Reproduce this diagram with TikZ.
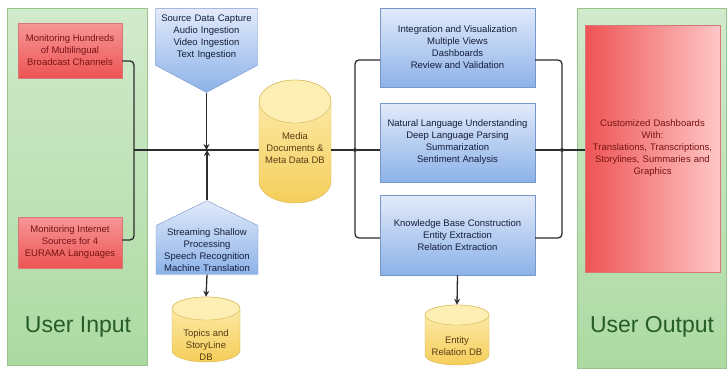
\documentclass[tikz,border=0pt]{standalone}
\usepackage{fontspec}
\setmainfont{Liberation Sans}
\usetikzlibrary{positioning,shapes.geometric,shapes.symbols,arrows.meta}

\definecolor{paneltop}{RGB}{210,234,204}
\definecolor{panelbot}{RGB}{172,218,162}
\definecolor{panelline}{RGB}{150,196,140}
\definecolor{labelgreen}{RGB}{38,92,38}
\definecolor{redtop}{RGB}{246,150,150}
\definecolor{redbot}{RGB}{238,84,84}
\definecolor{redline}{RGB}{214,120,120}
\definecolor{redtext}{RGB}{120,20,20}
\definecolor{bluetop}{RGB}{226,234,250}
\definecolor{bluebot}{RGB}{140,178,232}
\definecolor{blueline}{RGB}{120,150,200}
\definecolor{bluetext}{RGB}{20,30,60}
\definecolor{dbtop}{RGB}{253,238,180}
\definecolor{dbbot}{RGB}{245,206,90}
\definecolor{dbline}{RGB}{214,180,80}
\definecolor{dbtext}{RGB}{90,60,20}
\definecolor{wire}{RGB}{45,45,45}

\begin{document}
\begin{tikzpicture}[x=1pt,y=-1pt,
    panel/.style={draw=panelline, top color=paneltop, bottom color=panelbot},
    biglabel/.style={font=\fontsize{23}{26}\selectfont, text=labelgreen},
    inbox/.style={draw=redline, top color=redtop, bottom color=redbot, text=redtext,
      font=\fontsize{9.5}{12}\selectfont, align=center, inner sep=2pt},
    task/.style={draw=blueline, top color=bluetop, bottom color=bluebot, text=bluetext,
      font=\fontsize{9.5}{12}\selectfont, align=center, inner sep=2pt,
      minimum width=155pt, minimum height=79pt},
    capture/.style={shape=signal, draw=blueline, top color=bluetop, bottom color=bluebot,
      text=bluetext, font=\fontsize{9.5}{12}\selectfont, align=center, inner xsep=2pt,
      text width=98pt},
    dbbody/.style={draw=dbline, top color=dbtop, bottom color=dbbot},
    dblid/.style={draw=dbline, fill=dbtop},
    dbarea/.style={inner sep=0pt},
    dbname/.style={text=dbtext, font=\fontsize{9.5}{12}\selectfont, align=center,
      inner sep=0pt},
    wire/.style={draw=wire, line width=1.3pt, rounded corners=4pt},
    flow/.style={wire, -{Stealth[length=6pt,width=6pt]}},
    dot/.style={circle, fill=wire, inner sep=0pt, minimum size=4pt}
  ]
  \useasboundingbox (0,0) rectangle (728,372);

  % the two side panels
  \node[panel, minimum width=140pt, minimum height=357pt] (inpanel) at (77,186.5) {};
  \node[panel, minimum width=149pt, minimum height=360pt] (outpanel) at (651.5,188) {};
  \node[biglabel] (inlabel) at (78,327) {User Input};
  \node[biglabel] (outlabel) at (652,327) {User Output};

  % user input
  \node[inbox, minimum width=104pt, minimum height=55pt] (watchtv) at (70,50.5)
    {Monitoring Hundreds\\of Multilingual\\Broadcast Channels};
  \node[inbox, minimum width=104pt, minimum height=51pt] (watchweb) at (70,242.5)
    {Monitoring Internet\\Sources for 4\\EURAMA Languages};

  % user output
  \node[inbox, left color=redbot, right color=red!22!white, text width=131pt,
    minimum width=135pt, minimum height=247pt] (dash) at (652.5,148.5)
    {Customized Dashboards\\With:\\Translations, Transcriptions,\\Storylines, Summaries and\\Graphics};

  % capture and shallow processing
  \node[capture, signal to=south, signal pointer angle=124, inner ysep=6pt]
    (capt) at (206.5,37)
    {Source Data Capture\\Audio Ingestion\\Video Ingestion\\Text Ingestion};
  \node[capture, signal to=north, signal pointer angle=128, inner ysep=3pt]
    (stream) at (207,250)
    {Streaming Shallow\\Processing\\Speech Recognition\\Machine Translation};

  % data bases
  \path[dbbody] (259,101.5) -- (259,181.5) arc[start angle=180, end angle=0, x radius=36, y radius=21.5]
    -- (331,101.5) arc[start angle=0, end angle=-180, x radius=36, y radius=21.5] -- cycle;
  \path[dblid] (295,101.5) ellipse[x radius=36, y radius=21.5];
  \node[dbarea, minimum width=72pt, minimum height=123pt] (media) at (295,141.5) {};
  \node[dbname] (medianame) at (295,148) {Media\\Documents \&\\Meta Data DB};

  \path[dbbody] (172,308.5) -- (172,350.5) arc[start angle=180, end angle=0, x radius=34, y radius=11.5]
    -- (240,308.5) arc[start angle=0, end angle=-180, x radius=34, y radius=11.5] -- cycle;
  \path[dblid] (206,308.5) ellipse[x radius=34, y radius=11.5];
  \node[dbarea, minimum width=68pt, minimum height=65pt] (topics) at (206,329.5) {};
  \node[dbname] (topicsname) at (206,345) {Topics and\\StoryLine\\DB};

  \path[dbbody] (425,315) -- (425,355) arc[start angle=180, end angle=0, x radius=32, y radius=10]
    -- (489,315) arc[start angle=0, end angle=-180, x radius=32, y radius=10] -- cycle;
  \path[dblid] (457,315) ellipse[x radius=32, y radius=10];
  \node[dbarea, minimum width=64pt, minimum height=60pt] (entity) at (457,335) {};
  \node[dbname] (entityname) at (457,346) {Entity\\Relation DB};

  % deep processing
  \node[task] (visual) at (457.5,47.5)
    {Integration and Visualization\\Multiple Views\\Dashboards\\Review and Validation};
  \node[task] (nlu) at (457.5,142.5)
    {Natural Language Understanding\\Deep Language Parsing\\Summarization\\Sentiment Analysis};
  \node[task, minimum height=80pt] (kbase) at (457.5,235)
    {Knowledge Base Construction\\Entity Extraction\\Relation Extraction};

  % junctions
  \coordinate (jin) at (134,150);
  \node[dot] (jleft) at (355,150) {};
  \node[dot] (jright) at (562,150) {};

  % wires
  \draw[wire] (watchtv.east |- 0,61) -| (jin);
  \draw[wire] (watchweb.east |- 0,240) -| (jin);
  \draw[wire] (jin) -- (media.west |- jin);
  \draw[wire] (media.east |- jin) -- (jleft) -- (nlu.west |- jleft);
  \draw[wire] (visual.west |- 0,60) -| (jleft) |- (kbase.west |- 0,238);
  \draw[wire] (visual.east |- 0,60) -| (jright) |- (kbase.east |- 0,238);
  \draw[wire] (nlu.east |- jright) -- (jright) -- (dash.west |- jright);
  \draw[flow] (capt.south) -- (capt.south |- jin);
  \draw[flow] (stream.north) -- (stream.north |- jin);
  \draw[flow] (stream.south) -- (topics.north);
  \draw[flow] (kbase.south) -- (entity.north);
\end{tikzpicture}
\end{document}
